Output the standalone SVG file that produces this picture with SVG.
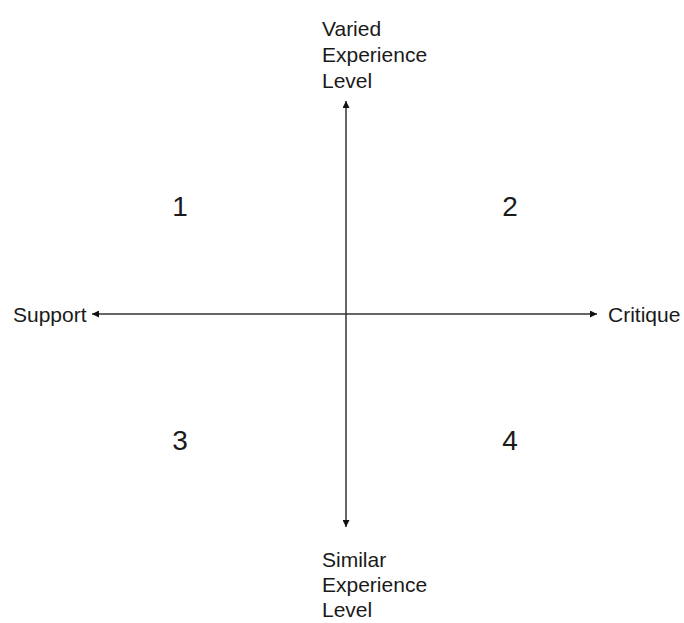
<svg xmlns="http://www.w3.org/2000/svg" width="684" height="623" viewBox="0 0 684 623">
<style>
text{font-family:"Liberation Sans",Arial,sans-serif;fill:#1a1a1a}
.lbl{font-size:21px}
.num{font-size:28px;text-anchor:middle}
.ax{stroke:#333;stroke-width:1.5;fill:none}
</style>
<defs>
<marker id="ah" viewBox="0 0 10 10" refX="10" refY="5" markerWidth="7" markerHeight="7" markerUnits="userSpaceOnUse" orient="auto">
<path d="M0,0 L10,5 L0,10 z" fill="#111"/>
</marker>
</defs>
<rect width="684" height="623" fill="#fff"/>
<g id="connectors">
<line class="ax" x1="346" y1="314" x2="346" y2="101" marker-end="url(#ah)"/>
<line class="ax" x1="346" y1="314" x2="346" y2="527" marker-end="url(#ah)"/>
<line class="ax" x1="346" y1="314" x2="92" y2="314" marker-end="url(#ah)"/>
<line class="ax" x1="346" y1="314" x2="597" y2="314" marker-end="url(#ah)"/>
</g>
<g id="varied"><text class="lbl" x="322" y="36">Varied</text><text class="lbl" x="322" y="62">Experience</text><text class="lbl" x="322" y="88">Level</text></g>
<g id="similar"><text class="lbl" x="322" y="567">Similar</text><text class="lbl" x="322" y="592">Experience</text><text class="lbl" x="322" y="617">Level</text></g>
<g id="support"><text class="lbl" x="13" y="322">Support</text></g>
<g id="critique"><text class="lbl" x="608" y="322">Critique</text></g>
<g id="q1"><text class="num" x="180" y="216">1</text></g>
<g id="q2"><text class="num" x="510" y="216">2</text></g>
<g id="q3"><text class="num" x="180" y="450">3</text></g>
<g id="q4"><text class="num" x="510" y="450">4</text></g>
</svg>
